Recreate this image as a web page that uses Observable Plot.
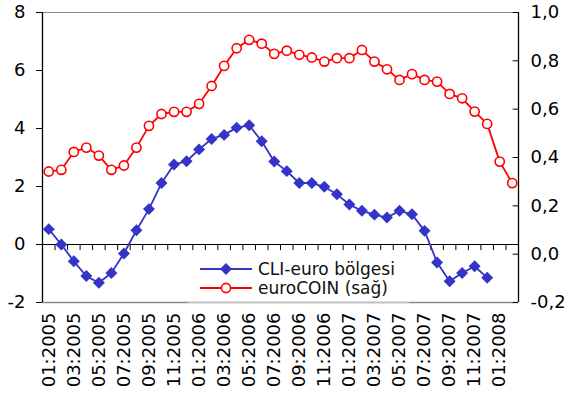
<!DOCTYPE html>
<html>
<head>
<meta charset="utf-8">
<script src="https://cdn.jsdelivr.net/npm/d3@7"></script>
<script src="https://cdn.jsdelivr.net/npm/@observablehq/plot@0.6"></script>
<style>
  html, body { margin: 0; padding: 0; background: white; }
  #wrap { position: relative; width: 569px; height: 403px; }
  #legend { position: absolute; left: 0; top: 0; pointer-events: none; }
</style>
</head>
<body>
<div id="wrap"></div>
<script>
const months = [
  "01:2005","02:2005","03:2005","04:2005","05:2005","06:2005","07:2005","08:2005","09:2005","10:2005","11:2005","12:2005",
  "01:2006","02:2006","03:2006","04:2006","05:2006","06:2006","07:2006","08:2006","09:2006","10:2006","11:2006","12:2006",
  "01:2007","02:2007","03:2007","04:2007","05:2007","06:2007","07:2007","08:2007","09:2007","10:2007","11:2007","12:2007",
  "01:2008","02:2008"
];
const cliEuro = [0.53, 0.0, -0.58, -1.09, -1.32, -0.98, -0.31, 0.49, 1.22, 2.12, 2.76, 2.87,
  3.28, 3.64, 3.78, 4.03, 4.11, 3.56, 2.86, 2.53, 2.12, 2.12, 1.99, 1.73,
  1.38, 1.16, 1.03, 0.93, 1.16, 1.04, 0.47, -0.62, -1.27, -0.98, -0.75, -1.15];
const euroCoin = [0.342, 0.349, 0.423, 0.441, 0.408, 0.349, 0.367, 0.441, 0.531, 0.580, 0.589, 0.589,
  0.622, 0.696, 0.779, 0.852, 0.887, 0.871, 0.829, 0.842, 0.825, 0.814, 0.797, 0.811,
  0.811, 0.845, 0.797, 0.765, 0.721, 0.745, 0.721, 0.714, 0.663, 0.645, 0.590, 0.539,
  0.383, 0.294];
const leftTicks = [-2, 0, 2, 4, 6, 8];
const rightTicks = [-0.2, 0, 0.2, 0.4, 0.6, 0.8, 1.0];
const seriesNames = ["CLI-euro bölgesi", "euroCOIN (sağ)"];

const BLUE = "#3434c8", RED = "#ff0000";
// map right axis (-0.2..1.0) onto left axis (-2..8)
const toLeft = v => -2 + (v + 0.2) * (10 / 1.2);
const cliData = cliEuro.map((v, i) => ({i, v}));
const coinData = euroCoin.map((v, i) => ({i, v: toLeft(v)}));
const boundaries = d3.range(months.length + 1).map(k => k - 0.5);
const labelIdx = d3.range(0, months.length, 2);

const chart = Plot.plot({
  width: 569, height: 403,
  marginLeft: 42, marginRight: 51, marginTop: 12, marginBottom: 101,
  style: {fontFamily: "DejaVu Sans", fontSize: "18px", color: "black", background: "white", overflow: "visible"},
  x: {type: "linear", domain: [-0.5, months.length - 0.5], axis: null},
  y: {domain: [-2, 8], axis: null},
  marks: [
    Plot.ruleY([8], {stroke: "#8a8a8a", strokeWidth: 1.2}),
    Plot.ruleY([-2], {stroke: "#8a8a8a", strokeWidth: 1.5}),
    Plot.ruleY([0], {stroke: "black", strokeWidth: 1.2}),
    Plot.ruleX(boundaries, {x: d => d, y1: 0, y2: -0.21, stroke: "black"}),
    Plot.ruleX([-0.5], {stroke: "black", strokeWidth: 1.3}),
    Plot.ruleX([months.length - 0.5], {stroke: "black", strokeWidth: 1.3}),
    Plot.axisY({anchor: "left", label: null, ticks: leftTicks, tickSize: 6, tickPadding: 11, tickFormat: d => String(d), fontSize: 18}),
    Plot.axisY({anchor: "right", label: null, ticks: rightTicks.map(toLeft), tickSize: 0, tickPadding: 12,
      tickFormat: d => { const v = (d + 2) * 1.2 / 10 - 0.2; return (Math.round(v * 10) / 10).toFixed(1).replace(".", ",").replace("-0,0", "0,0"); }, fontSize: 18}),
    Plot.ruleY(rightTicks.map(toLeft), {y: d => d, x1: months.length - 0.5, x2: months.length - 0.92, stroke: "black"}),
    Plot.axisX({anchor: "bottom", label: null, ticks: labelIdx, tickFormat: i => months[i], tickRotate: -90, tickSize: 0, tickPadding: 10, fontSize: 18, letterSpacing: 1}),
    Plot.line(coinData, {x: "i", y: "v", stroke: RED, strokeWidth: 1.8}),
    Plot.line(cliData, {x: "i", y: "v", stroke: BLUE, strokeWidth: 1.8}),
    Plot.dot(coinData, {x: "i", y: "v", r: 4.6, fill: "white", stroke: RED, strokeWidth: 1.6}),
    Plot.dot(cliData, {x: "i", y: "v", symbol: "diamond2", r: 5.4, fill: BLUE, stroke: "none"})
  ]
});
const wrap = document.getElementById("wrap");
wrap.appendChild(chart);

// legend overlay
const lg = d3.select(wrap).append("svg").attr("id", "legend").attr("width", 569).attr("height", 403)
  .style("font-family", "DejaVu Sans").style("font-size", "17px");
lg.append("rect").attr("x", 188).attr("y", 253).attr("width", 221).attr("height", 49).attr("fill", "white");
lg.append("line").attr("x1", 188).attr("x2", 409).attr("y1", 302).attr("y2", 302).attr("stroke", "#cfcfcf").attr("stroke-width", 1.5);
const rows = [
  {name: seriesNames[0], color: BLUE, y: 269, kind: "diamond"},
  {name: seriesNames[1], color: RED, y: 288, kind: "circle"}
];
for (const r of rows) {
  lg.append("line").attr("x1", 200).attr("x2", 252).attr("y1", r.y).attr("y2", r.y).attr("stroke", r.color).attr("stroke-width", 1.8);
  if (r.kind === "diamond") {
    lg.append("path").attr("d", d3.symbol(d3.symbolDiamond2, Math.PI * 5.4 * 5.4)()).attr("transform", `translate(226,${r.y})`).attr("fill", r.color);
  } else {
    lg.append("circle").attr("cx", 226).attr("cy", r.y).attr("r", 4.6).attr("fill", "white").attr("stroke", r.color).attr("stroke-width", 1.6);
  }
  lg.append("text").attr("x", 258).attr("y", r.y).attr("dy", "0.35em").attr("fill", "#111").text(r.name);
}
</script>
</body>
</html>
